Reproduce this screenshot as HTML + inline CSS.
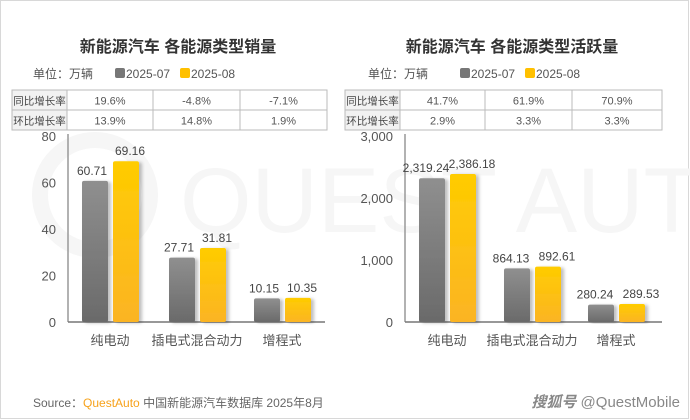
<!DOCTYPE html>
<html><head><meta charset="utf-8"><style>
body{margin:0;background:#fff;}
svg{display:block;font-family:"Liberation Sans","Noto Sans CJK SC",sans-serif;}
</style></head><body>
<svg id="c" width="690" height="420" viewBox="0 0 690 420">
<defs>
<linearGradient id="gg" x1="0" y1="0" x2="0" y2="1"><stop offset="0" stop-color="#8f8f8f"/><stop offset="1" stop-color="#6a6a6a"/></linearGradient>
<linearGradient id="gy" x1="0" y1="0" x2="0" y2="1"><stop offset="0" stop-color="#ffcc00"/><stop offset="1" stop-color="#fbb424"/></linearGradient>
<filter id="sh" x="-20%" y="-10%" width="150%" height="120%"><feDropShadow dx="3" dy="1" stdDeviation="1.5" flood-color="#000" flood-opacity="0.25"/></filter>
</defs>
<rect x="0.5" y="0.5" width="688" height="418" fill="#fff" stroke="#d8d8d8"/>
<g>
<circle cx="95" cy="195" r="55" fill="none" stroke="#f6f6f6" stroke-width="16"/>
<text x="180" y="232" font-size="92" fill="#f6f6f6">QUEST AUTO</text>
</g>
<text x="178" y="52" text-anchor="middle" font-size="16" font-weight="bold" fill="#333">新能源汽车 各能源类型销量</text>
<text x="512" y="52" text-anchor="middle" font-size="16" font-weight="bold" fill="#333">新能源汽车 各能源类型活跃量</text>
<g font-size="12" fill="#555">
<text x="33" y="78">单位：万辆</text>
<rect x="115" y="68" width="10" height="10" rx="2" fill="#777"/>
<text x="126" y="78">2025-07</text>
<rect x="180" y="68" width="10" height="10" rx="2" fill="#ffc000"/>
<text x="191" y="78">2025-08</text>
<text x="368" y="78">单位：万辆</text>
<rect x="460" y="68" width="10" height="10" rx="2" fill="#777"/>
<text x="471" y="78">2025-07</text>
<rect x="525" y="68" width="10" height="10" rx="2" fill="#ffc000"/>
<text x="536" y="78">2025-08</text>
</g>
<g id="tables"></g>
<g id="charts"></g>
<text x="33" y="407" font-size="12" fill="#666">Source：<tspan fill="#f7a21b">QuestAuto</tspan> 中国新能源汽车数据库 2025年8月</text>
<text x="680" y="407" text-anchor="end" font-size="15" fill="#888"><tspan font-style="italic" font-weight="bold">搜狐号</tspan> @QuestMobile</text>
</svg>
<script>
const categories=["纯电动","插电式混合动力","增程式"];
const salesJul=[60.71,27.71,10.15];
const salesAug=[69.16,31.81,10.35];
const salesTicks=[0,20,40,60,80];
const salesTickLabels=["0","20","40","60","80"];
const activeJul=[2319.24,864.13,280.24];
const activeAug=[2386.18,892.61,289.53];
const activeTicks=[0,1000,2000,3000];
const activeTickLabels=["0","1,000","2,000","3,000"];
const salesYoY=["19.6%","-4.8%","-7.1%"];
const salesMoM=["13.9%","14.8%","1.9%"];
const activeYoY=["41.7%","61.9%","70.9%"];
const activeMoM=["2.9%","3.3%","3.3%"];
const NS="http://www.w3.org/2000/svg";
function mk(p,t,a){const e=document.createElementNS(NS,t);for(const k in a)e.setAttribute(k,a[k]);p.appendChild(e);return e;}
function fmt(v){return v.toLocaleString("en-US",{minimumFractionDigits:2,maximumFractionDigits:2});}
const tg=document.getElementById("tables");
function table(x0,cols,x1,yoy,mom,pre){
  const y0=90,y1=130;
  let r=mk(tg,"rect",{x:x0,y:y0,width:x1-x0,height:40,fill:"none",stroke:"#bbb"});
  
  
  mk(tg,"rect",{x:x0+0.5,y:y0+0.5,width:cols[0]-x0-1,height:39,fill:"#f2f2f2"});
  mk(tg,"line",{x1:x0,x2:x1,y1:110,y2:110,stroke:"#bbb"});
  cols.forEach(c=>mk(tg,"line",{x1:c,x2:c,y1:y0,y2:y1,stroke:"#bbb"}));
  const labs=["同比增长率","环比增长率"];
  [yoy,mom].forEach((row,ri)=>{
    const y=y0+14.5+ri*20;
    let t=mk(tg,"text",{x:(x0+cols[0])/2,y:y,"text-anchor":"middle","font-size":10.5,fill:"#444"});t.textContent=labs[ri];
    
    
    const edges=[cols[0],cols[1],cols[2],x1];
    row.forEach((v,i)=>{
      let u=mk(tg,"text",{x:(edges[i]+edges[i+1])/2,y:y,"text-anchor":"middle","font-size":11,fill:"#555"});u.textContent=v;
      
      
    });
  });
}
table(12,[67,153,240],327,salesYoY,salesMoM,"sales");
table(345,[400,485,572],662,activeYoY,activeMoM,"active");
const cg=document.getElementById("charts");
function chart(ax,axEnd,centers,jul,aug,ticks,tlabels,maxV,pre,isK,offs){
  const base=322,top=136;
  const y=v=>base-(v/maxV)*(base-top);
  let a=mk(cg,"line",{x1:ax,x2:ax,y1:top-2,y2:base,stroke:"#999","stroke-width":1.5});
  
  
  let b=mk(cg,"line",{x1:ax,x2:axEnd,y1:base,y2:base,stroke:"#777","stroke-width":1.5});
  
  
  ticks.forEach((t,i)=>{
    let e=mk(cg,"text",{x:ax-12,y:y(t)+5,"text-anchor":"end","font-size":13,fill:"#555"});e.textContent=tlabels[i];
    
    
  });
  centers.forEach((c,i)=>{
    [[jul[i],"url(#gg)",-28,"jul",offs[0]],[aug[i],"url(#gy)",3,"aug",offs[1]]].forEach(([v,f,dx,s,o])=>{
      let r=mk(cg,"rect",{x:c+dx,y:y(v),width:26,height:base-y(v),rx:2,fill:f,filter:"url(#sh)"});
      
      
      let t=mk(cg,"text",{x:c+dx+13+o,y:y(v)-6,"text-anchor":"middle","font-size":12,fill:"#444"});t.textContent=isK?fmt(v):v.toFixed(2);
      
      
    });
    let l=mk(cg,"text",{x:c,y:345,"text-anchor":"middle","font-size":13,fill:"#555"});l.textContent=categories[i];
    
    
  });
}
chart(68,325,[110,197,282],salesJul,salesAug,salesTicks,salesTickLabels,80,"sales",false,[-3,4]);
chart(405,662,[447,532,616],activeJul,activeAug,activeTicks,activeTickLabels,3000,"active",true,[-6,9]);
</script>
</body></html>
